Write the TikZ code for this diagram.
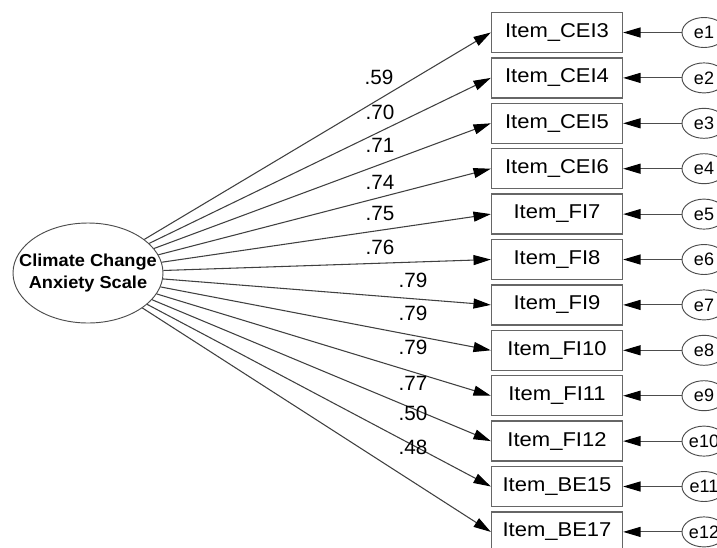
\documentclass[tikz,border=0pt]{standalone}
\usepackage{fontspec}
\setmainfont{Liberation Sans}
\usetikzlibrary{arrows.meta,shapes.geometric}
\begin{document}
\begin{tikzpicture}[x=0.75pt,y=-0.75pt,
  item/.style={draw=black!60,line width=1pt,minimum width=131*0.75pt,minimum height=40*0.75pt,inner sep=0pt,font=\fontsize{15}{15}\selectfont},
  err/.style={draw=black!70,line width=0.7pt,ellipse,minimum width=44*0.75pt,minimum height=30*0.75pt,inner sep=0pt,font=\fontsize{13.5}{13.5}\selectfont},
  lat/.style={draw=black!70,line width=0.7pt,ellipse,minimum width=150*0.75pt,minimum height=100*0.75pt,inner sep=0pt},
  lattext/.style={align=center,inner sep=0pt,font=\bfseries\fontsize{13}{16.5}\selectfont},
  load/.style={draw=black!75,line width=0.8pt,-{Triangle[length=13pt,width=7.5pt,color=black]}},
  eline/.style={draw=black!70,line width=0.8pt,-{Triangle[length=13pt,width=7.5pt,color=black]}},
  lab/.style={font=\fontsize{15.5}{15.5}\selectfont,inner sep=0pt}]
\useasboundingbox (0,0) rectangle (717,547);
\node[lat] (L) at (88,273) {};
\node[lattext] (Lt) at (L.center) {\scalebox{1.05}[1]{Climate Change}\\\scalebox{1.05}[1]{Anxiety Scale}};
\foreach \i/\t/\e in {0/Item\_CEI3/e1,1/Item\_CEI4/e2,2/Item\_CEI5/e3,3/Item\_CEI6/e4,4/Item\_FI7/e5,5/Item\_FI8/e6,6/Item\_FI9/e7,7/Item\_FI10/e8,8/Item\_FI11/e9,9/Item\_FI12/e10,10/Item\_BE15/e11,11/Item\_BE17/e12}{
  \node[item] (b\i) at (557,32.5+45.4*\i) {\scalebox{1.1}[1]{\t}};
  \node[err] (e\i) at (704,32.5+45.4*\i) {\e};
  \draw[load] (L) -- (b\i.west);
  \draw[eline] (e\i) -- (b\i.east);
}
\node[lab] at (379,77) {.59};
\node[lab] at (380,112) {.70};
\node[lab] at (380,145) {.71};
\node[lab] at (380,182) {.74};
\node[lab] at (380,213) {.75};
\node[lab] at (380,247) {.76};
\node[lab] at (413,280) {.79};
\node[lab] at (413,313) {.79};
\node[lab] at (413,347) {.79};
\node[lab] at (413,383) {.77};
\node[lab] at (413,413) {.50};
\node[lab] at (413,447) {.48};
\end{tikzpicture}
\end{document}
